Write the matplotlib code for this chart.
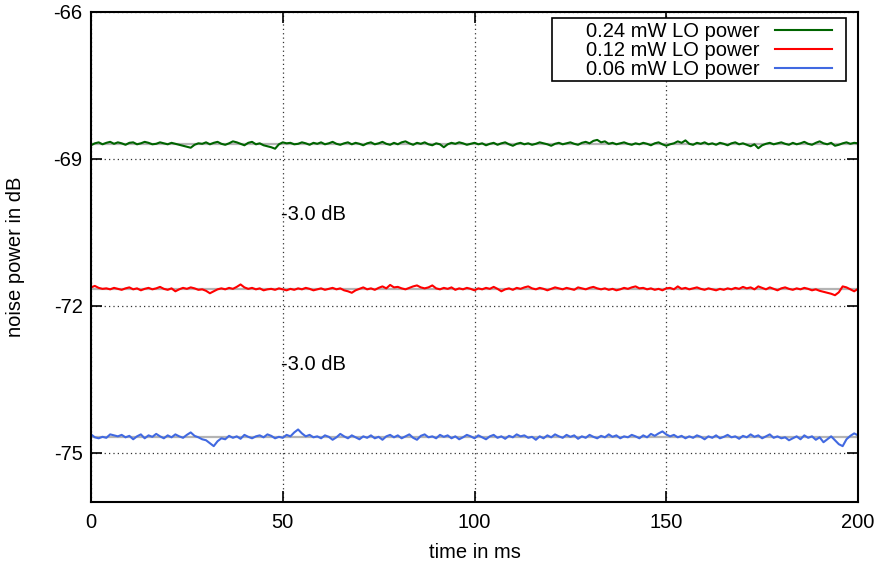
import numpy as np
import matplotlib
matplotlib.use("Agg")
import matplotlib.pyplot as plt
from matplotlib.patches import Rectangle

plt.rcParams['font.family'] = ['Liberation Sans', 'DejaVu Sans']

time_ms = np.arange(0, 201, 1)

green_024 = [
    -68.72, -68.68, -68.66, -68.70, -68.67, -68.65, -68.69, -68.66, -68.68, -68.71, -68.67, -68.66, -68.70, -68.68, -68.65, -68.67, -68.70, -68.69, -68.66, -68.68,
    -68.70, -68.67, -68.69, -68.71, -68.73, -68.75, -68.77, -68.71, -68.68, -68.69, -68.66, -68.70, -68.67, -68.65, -68.69, -68.71, -68.68, -68.64, -68.66, -68.69,
    -68.72, -68.67, -68.65, -68.70, -68.68, -68.72, -68.74, -68.76, -68.79, -68.70, -68.66, -68.68, -68.67, -68.70, -68.69, -68.66, -68.68, -68.71, -68.67, -68.69,
    -68.66, -68.70, -68.68, -68.65, -68.69, -68.71, -68.68, -68.66, -68.70, -68.67, -68.69, -68.72, -68.68, -68.66, -68.70, -68.68, -68.65, -68.69, -68.71, -68.67,
    -68.70, -68.66, -68.64, -68.68, -68.71, -68.67, -68.69, -68.66, -68.70, -68.72, -68.68, -68.70, -68.76, -68.70, -68.67, -68.69, -68.66, -68.68, -68.71, -68.69,
    -68.67, -68.70, -68.68, -68.72, -68.69, -68.67, -68.71, -68.68, -68.66, -68.70, -68.73, -68.69, -68.67, -68.70, -68.68, -68.71, -68.69, -68.66, -68.68, -68.70,
    -68.73, -68.69, -68.67, -68.70, -68.68, -68.66, -68.69, -68.71, -68.67, -68.65, -68.68, -68.63, -68.61, -68.66, -68.64, -68.69, -68.67, -68.70, -68.68, -68.66,
    -68.69, -68.71, -68.68, -68.70, -68.67, -68.69, -68.72, -68.68, -68.66, -68.70, -68.73, -68.70, -68.68, -68.64, -68.67, -68.62, -68.69, -68.71, -68.67, -68.69,
    -68.66, -68.70, -68.68, -68.71, -68.67, -68.69, -68.72, -68.68, -68.66, -68.70, -68.68, -68.71, -68.74, -68.70, -68.78, -68.72, -68.69, -68.67, -68.70, -68.68,
    -68.66, -68.69, -68.71, -68.67, -68.70, -68.68, -68.65, -68.69, -68.71, -68.67, -68.64, -68.68, -68.70, -68.67, -68.73, -68.71, -68.68, -68.66, -68.69, -68.67,
    -68.68,
]

red_012 = [
    -71.62, -71.59, -71.63, -71.65, -71.64, -71.66, -71.63, -71.65, -71.67, -71.64, -71.62, -71.66, -71.64, -71.68, -71.65, -71.63, -71.66, -71.64, -71.61, -71.65,
    -71.67, -71.64, -71.70, -71.66, -71.63, -71.65, -71.62, -71.64, -71.67, -71.66, -71.69, -71.74, -71.70, -71.66, -71.64, -71.66, -71.63, -71.65, -71.61, -71.56,
    -71.62, -71.65, -71.63, -71.66, -71.64, -71.68, -71.66, -71.65, -71.67, -71.64, -71.66, -71.68, -71.65, -71.67, -71.64, -71.66, -71.63, -71.65, -71.68, -71.66,
    -71.64, -71.67, -71.65, -71.63, -71.66, -71.64, -71.68, -71.70, -71.73, -71.68, -71.65, -71.62, -71.66, -71.64, -71.67, -71.63, -71.60, -71.64, -71.57, -71.62,
    -71.61, -71.64, -71.66, -71.63, -71.60, -71.58, -71.62, -71.64, -71.62, -71.58, -71.64, -71.66, -71.63, -71.65, -71.62, -71.67, -71.64, -71.66, -71.63, -71.65,
    -71.68, -71.64, -71.66, -71.63, -71.65, -71.61, -71.65, -71.70, -71.66, -71.64, -71.67, -71.63, -71.65, -71.62, -71.60, -71.64, -71.66, -71.63, -71.65, -71.68,
    -71.65, -71.62, -71.64, -71.66, -71.63, -71.65, -71.67, -71.62, -71.64, -71.66, -71.63, -71.61, -71.64, -71.66, -71.64, -71.67, -71.65, -71.68, -71.66, -71.63,
    -71.65, -71.62, -71.60, -71.64, -71.63, -71.66, -71.64, -71.67, -71.65, -71.68, -71.64, -71.63, -71.66, -71.60, -71.65, -71.63, -71.66, -71.64, -71.62, -71.65,
    -71.67, -71.64, -71.66, -71.68, -71.65, -71.67, -71.64, -71.66, -71.63, -71.65, -71.61, -71.64, -71.62, -71.66, -71.60, -71.63, -71.66, -71.62, -71.65, -71.68,
    -71.64, -71.62, -71.65, -71.67, -71.64, -71.66, -71.63, -71.65, -71.68, -71.66, -71.69, -71.71, -71.73, -71.75, -71.78, -71.72, -71.60, -71.62, -71.66, -71.70,
    -71.65,
]

blue_006 = [
    -74.62, -74.68, -74.70, -74.67, -74.69, -74.62, -74.64, -74.66, -74.63, -74.68, -74.65, -74.72, -74.66, -74.62, -74.70, -74.64, -74.67, -74.61, -74.66, -74.70,
    -74.64, -74.68, -74.62, -74.66, -74.69, -74.63, -74.58, -74.65, -74.68, -74.72, -74.74, -74.80, -74.86, -74.76, -74.70, -74.72, -74.65, -74.69, -74.66, -74.71,
    -74.63, -74.67, -74.70, -74.66, -74.64, -74.68, -74.62, -74.65, -74.70, -74.67, -74.69, -74.63, -74.66, -74.58, -74.52, -74.60, -74.66, -74.63, -74.68, -74.66,
    -74.70, -74.64, -74.67, -74.73, -74.68, -74.61, -74.66, -74.70, -74.64, -74.68, -74.72, -74.66, -74.69, -74.64, -74.70, -74.67, -74.73, -74.66, -74.63, -74.68,
    -74.64, -74.70, -74.66, -74.62, -74.69, -74.73, -74.65, -74.62, -74.68, -74.66, -74.70, -74.63, -74.67, -74.64, -74.70, -74.66, -74.72, -74.68, -74.63, -74.66,
    -74.70, -74.64, -74.68, -74.72, -74.66, -74.63, -74.69, -74.66, -74.71, -74.65, -74.68, -74.62, -74.66, -74.64, -74.69, -74.67, -74.73, -74.66, -74.70, -74.64,
    -74.68, -74.62, -74.66, -74.69, -74.63, -74.67, -74.64, -74.71, -74.66, -74.69, -74.63, -74.67, -74.70, -74.65, -74.68, -74.62, -74.67, -74.64, -74.70, -74.66,
    -74.68, -74.63, -74.66, -74.70, -74.64, -74.68, -74.61, -74.65, -74.60, -74.56, -74.62, -74.66, -74.63, -74.68, -74.65, -74.70, -74.66, -74.69, -74.64, -74.67,
    -74.72, -74.66, -74.69, -74.64, -74.70, -74.67, -74.63, -74.68, -74.66, -74.71, -74.65, -74.68, -74.62, -74.67, -74.64, -74.70, -74.66, -74.62, -74.69, -74.66,
    -74.70, -74.68, -74.74, -74.70, -74.66, -74.72, -74.64, -74.69, -74.66, -74.73, -74.68, -74.78, -74.72, -74.66, -74.74, -74.82, -74.86, -74.72, -74.65, -74.60,
    -74.64,
]

labels = ["0.24 mW LO power", "0.12 mW LO power", "0.06 mW LO power"]
colors = ["#006400", "#ff0000", "#4169e1"]
series = [green_024, red_012, blue_006]

annotations = [("-3.0 dB", 49.6, -70.14), ("-3.0 dB", 49.6, -73.20)]

x_ticks = [0, 50, 100, 150, 200]
y_ticks = [-66, -69, -72, -75]

W, H = 880, 570
fig = plt.figure(figsize=(8.8, 5.7), dpi=100)
ax = fig.add_axes([91/W, 68/H, 767/W, 490/H])

fs = 14.5

for s in series:
    ax.axhline(np.mean(s), color="#b4b4b4", lw=1.6, zorder=1)

for s, c, lab in zip(series, colors, labels):
    ax.plot(time_ms, s, color=c, lw=1.5, label=lab, zorder=3)

for txt, tx, ty in annotations:
    ax.text(tx, ty, txt, ha="left", va="center", fontsize=fs)

ax.set_xlim(0, 200)
ax.set_ylim(-76, -66)
ax.set_xticks(x_ticks)
ax.set_yticks(y_ticks)
ax.set_xticklabels([str(v) for v in x_ticks], fontsize=fs)
ax.set_yticklabels([str(v) for v in y_ticks], fontsize=fs)
ax.tick_params(direction="in", length=8, width=1.2, top=True, right=True)
ax.tick_params(axis="x", pad=8)
ax.tick_params(axis="y", pad=6)
ax.grid(True, color="#333333", linestyle=(0, (1, 2.5)), linewidth=0.9)
ax.set_axisbelow(True)
for sp in ax.spines.values():
    sp.set_linewidth(1.5)
    sp.set_zorder(6)

ax.set_xlabel("time in ms", fontsize=fs, labelpad=8)
ax.set_ylabel("noise power in dB", fontsize=fs)
ax.yaxis.set_label_coords((25 - 91) / 767, 0.5)

# legend box (gnuplot style, text right-aligned, sample on the right)
box = Rectangle((552/W, (H-81)/H), 294/W, 63/H, transform=fig.transFigure,
                facecolor="white", edgecolor="black", lw=1.2, zorder=4, clip_on=False)
ax.add_patch(box)

leg = ax.legend(loc="upper right", bbox_to_anchor=((837-91)/767, (502-17)/490), borderaxespad=0,
                markerfirst=False, fontsize=fs, handlelength=2.84, handletextpad=0.75,
                labelspacing=0.0, borderpad=0.25, frameon=False)
leg.set_zorder(5)

fig.savefig("out.png", dpi=100)
